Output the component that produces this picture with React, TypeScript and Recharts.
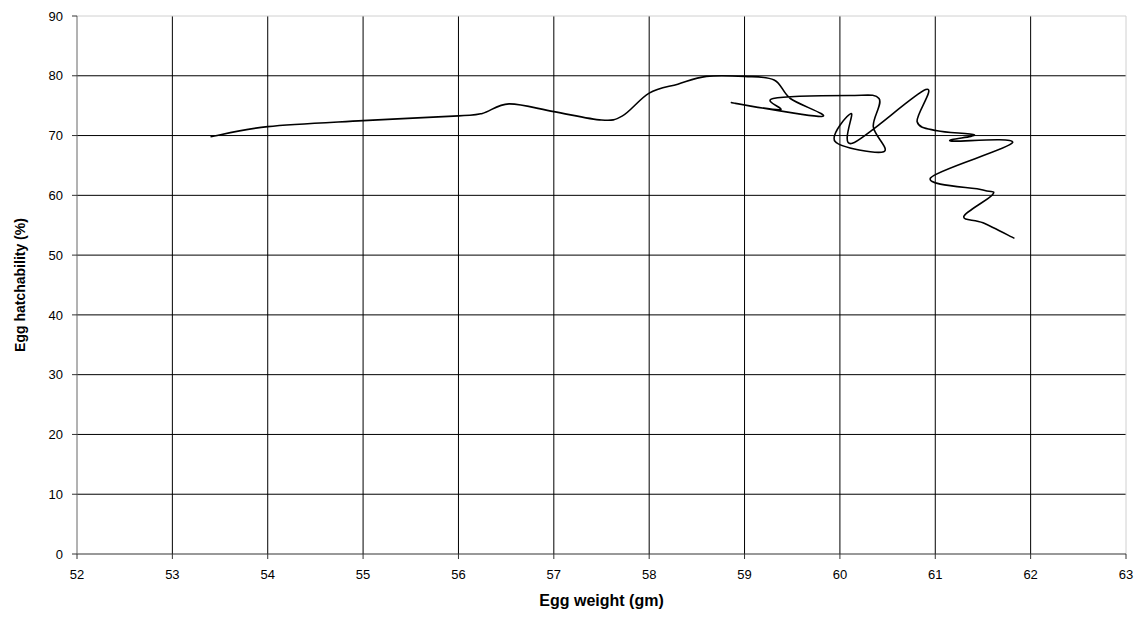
import React from "react";
import {
  LineChart,
  Line,
  XAxis,
  YAxis,
  CartesianGrid,
  ReferenceLine,
  Label,
} from "recharts";

// egg weight (gm) and hatchability (%), in recorded order
const eggWeight = [
  53.4, 54.0, 55.0, 56.0, 56.25, 56.53, 57.0, 57.5, 57.72, 58.0, 58.3, 58.6,
  59.0, 59.31, 59.48, 59.81, 58.87, 59.37, 59.3, 60.1, 60.41, 60.35, 60.46,
  59.95, 60.12, 60.13, 60.9, 60.81, 61.02, 61.41, 61.16, 61.81, 60.95, 61.5,
  61.6, 61.3, 61.5, 61.83,
];
const hatchability = [
  69.8, 71.5, 72.5, 73.3, 73.7, 75.3, 74.0, 72.6, 73.3, 77.1, 78.6, 79.9,
  79.9, 79.3, 76.2, 73.2, 75.5, 74.3, 76.2, 76.7, 76.2, 71.5, 67.3,
  69.0, 73.7, 68.7, 77.7, 72.3, 70.8, 70.1, 69.1, 68.8, 62.9, 60.9,
  60.1, 56.5, 55.4, 52.8,
];

const xTicks = [52, 53, 54, 55, 56, 57, 58, 59, 60, 61, 62, 63];
const yTicks = [0, 10, 20, 30, 40, 50, 60, 70, 80, 90];

const rows = eggWeight.map((x, i) => ({ x, y: hatchability[i] }));

// smoothed scatter line: cubic bezier through every point (catmull-rom style)
function smoothCurve(context: any) {
  let pts: [number, number][] = [];
  return {
    areaStart() {},
    areaEnd() {},
    lineStart() {
      pts = [];
    },
    point(x: number, y: number) {
      pts.push([+x, +y]);
    },
    lineEnd() {
      if (!pts.length) return;
      context.moveTo(pts[0][0], pts[0][1]);
      for (let i = 0; i < pts.length - 1; i++) {
        const p0 = pts[Math.max(i - 1, 0)];
        const p1 = pts[i];
        const p2 = pts[i + 1];
        const p3 = pts[Math.min(i + 2, pts.length - 1)];
        context.bezierCurveTo(
          p1[0] + (p2[0] - p0[0]) / 6,
          p1[1] + (p2[1] - p0[1]) / 6,
          p2[0] - (p3[0] - p1[0]) / 6,
          p2[1] - (p3[1] - p1[1]) / 6,
          p2[0],
          p2[1],
        );
      }
    },
  };
}

const tickStyle = { fontSize: 13, fill: "#000", fontFamily: "'Liberation Sans', Arial, sans-serif" };

export default function App() {
  return (
    <div style={{ fontFamily: "'Liberation Sans', Arial, sans-serif" }}>
      <LineChart
        width={1140}
        height={604}
        data={rows}
        margin={{ top: 8, right: 22, left: 0, bottom: 0 }}
      >
        <CartesianGrid
          stroke="#000"
          strokeWidth={1}
          horizontalValues={[10, 20, 30, 40, 50, 60, 70, 80]}
          verticalValues={[53, 54, 55, 56, 57, 58, 59, 60, 61, 62]}
        />
        <ReferenceLine y={90} stroke="#d0d0d0" />
        <ReferenceLine x={63} stroke="#d0d0d0" />
        <XAxis
          dataKey="x"
          type="number"
          domain={[52, 63]}
          ticks={xTicks}
          allowDataOverflow
          height={58}
          tick={tickStyle}
          tickSize={5}
          tickMargin={11}
          axisLine={{ stroke: "#333" }}
          tickLine={{ stroke: "#333" }}
        >
          <Label
            value="Egg weight (gm)"
            position="insideBottom"
            offset={6}
            style={{ fontSize: 16, fontWeight: "bold", fill: "#000" }}
          />
        </XAxis>
        <YAxis
          type="number"
          domain={[0, 90]}
          ticks={yTicks}
          width={69}
          tick={tickStyle}
          tickSize={5}
          tickMargin={9}
          axisLine={{ stroke: "#666" }}
          tickLine={{ stroke: "#333" }}
        >
          <Label
            value="Egg hatchability (%)"
            angle={-90}
            position="insideLeft"
            offset={12}
            style={{ fontSize: 14, fontWeight: "bold", fill: "#000", textAnchor: "middle" }}
          />
        </YAxis>
        <Line
          dataKey="y"
          type={smoothCurve as any}
          stroke="#000"
          strokeWidth={1.6}
          dot={false}
          activeDot={false}
          isAnimationActive={false}
        />
      </LineChart>
    </div>
  );
}
